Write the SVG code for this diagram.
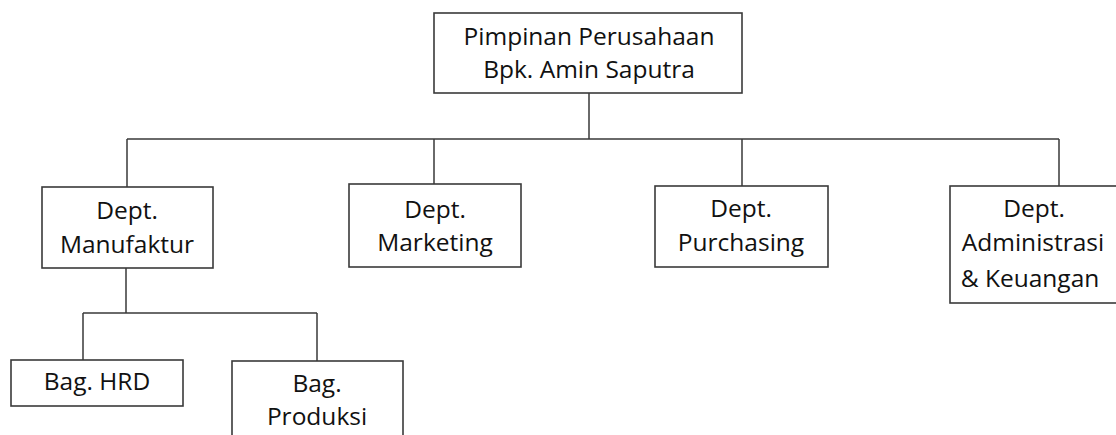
<svg xmlns="http://www.w3.org/2000/svg" width="1116" height="435" viewBox="0 0 1116 435">
<style>
.box{fill:#fff;stroke:#3a3a3a;stroke-width:1.6}
.t{font-family:"Open Sans","Noto Sans",sans-serif;font-size:24.5px;fill:#111;text-anchor:middle}
.c{fill:none;stroke:#3a3a3a;stroke-width:1.5}
</style>
<rect width="1116" height="435" fill="#fff"/>
<g id="connectors">
<path class="c" d="M589 93V139M127 139H1059M127 139V187M434 139V184M742 139V186M1059 139V186"/>
<path class="c" d="M126 268V313M83 313H317M83 313V360M317 313V361"/>
</g>
<g id="pimpinan">
<rect class="box" x="434" y="13" width="308" height="80"/>
<text class="t" x="589" y="45">Pimpinan Perusahaan</text>
<text class="t" x="589" y="78">Bpk. Amin Saputra</text>
</g>
<g id="manufaktur">
<rect class="box" x="42" y="187" width="171" height="81"/>
<text class="t" x="127" y="219">Dept.</text>
<text class="t" x="127" y="253">Manufaktur</text>
</g>
<g id="marketing">
<rect class="box" x="349" y="184" width="172" height="83"/>
<text class="t" x="435" y="218">Dept.</text>
<text class="t" x="435" y="251">Marketing</text>
</g>
<g id="purchasing">
<rect class="box" x="655" y="186" width="173" height="81"/>
<text class="t" x="741" y="217">Dept.</text>
<text class="t" x="741" y="251">Purchasing</text>
</g>
<g id="administrasi">
<rect class="box" x="950" y="186" width="170" height="117"/>
<text class="t" x="1034" y="217">Dept.</text>
<text class="t" x="1033" y="251">Administrasi</text>
<text class="t" x="1030" y="287">&amp; Keuangan</text>
</g>
<g id="hrd">
<rect class="box" x="11" y="360" width="172" height="46"/>
<text class="t" x="97" y="390">Bag. HRD</text>
</g>
<g id="produksi">
<rect class="box" x="232" y="361" width="171" height="80"/>
<text class="t" x="317" y="392">Bag.</text>
<text class="t" x="317" y="425">Produksi</text>
</g>
</svg>
